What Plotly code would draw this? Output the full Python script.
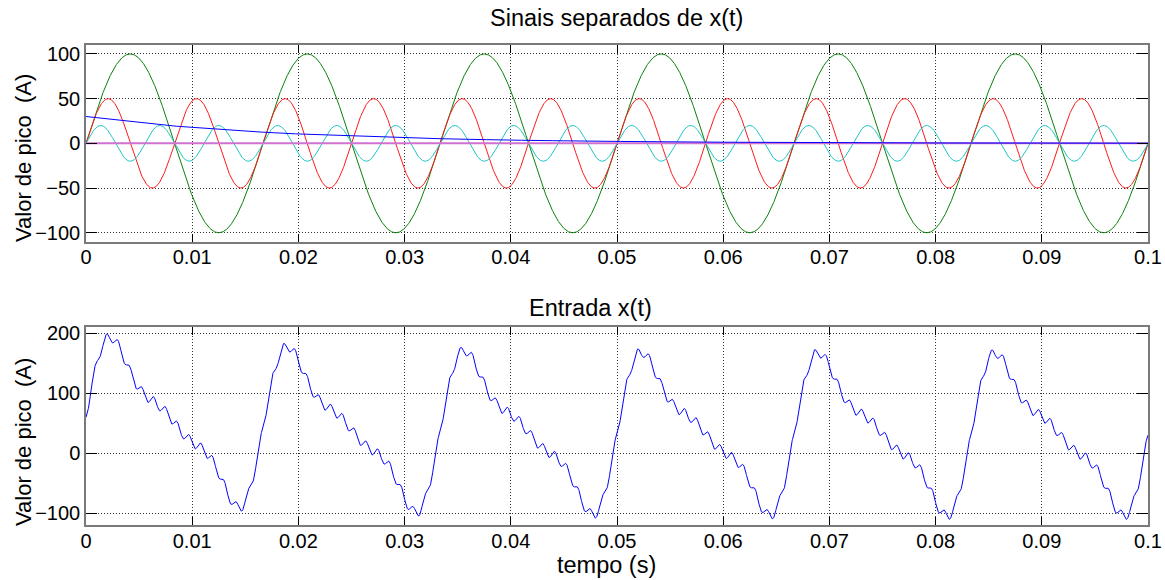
import numpy as np
import plotly.graph_objects as go

# ---------------- data ----------------
t_start, t_end, n_samples = 0.0, 0.1, 4001

# components shown in the top panel (amplitude in A, frequency in Hz)
comp_names = ["decaimento", "60 Hz", "120 Hz", "180 Hz", "nulo"]
comp_amplitudes = [30.0, 100.0, 50.0, 20.0, 0.0]
comp_frequencies = [0.0, 60.0, 120.0, 180.0, 0.0]
decay_tau = 0.019  # s, time constant of the decaying blue component
comp_colors = ["#0000FF", "#0A800A", "#FF1A1A", "#20C4C4", "#D070D0"]
comp_widths = [1, 1, 1, 1, 2]
draw_order = [1, 2, 3, 4, 0]

# extra content visible in the input signal (bottom panel)
input_offset = 31.0
ripple_amplitude = 8.0
ripple_frequency = 900.0
ripple_phase = 3.3

x_ticks = [0, 0.01, 0.02, 0.03, 0.04, 0.05, 0.06, 0.07, 0.08, 0.09, 0.1]
x_tick_labels = ["0", "0.01", "0.02", "0.03", "0.04", "0.05", "0.06", "0.07", "0.08", "0.09", "0.1"]
top_y_ticks = [-100, -50, 0, 50, 100]
bottom_y_ticks = [-100, 0, 100, 200]
top_y_range = [-110, 110]
bottom_y_range = [-120, 210]

# ---------------- build signals ----------------
t = np.linspace(t_start, t_end, n_samples)
components = []
for a, f in zip(comp_amplitudes, comp_frequencies):
    if f == 0.0 and a != 0.0:
        components.append(a * np.exp(-t / decay_tau))
    else:
        components.append(a * np.sin(2 * np.pi * f * t))
x_input = (sum(components) + input_offset
           + ripple_amplitude * np.sin(2 * np.pi * ripple_frequency * t + ripple_phase))

# ---------------- figure ----------------
FONT = "Liberation Sans, Arial, sans-serif"
fig = go.Figure()
for i in draw_order:
    fig.add_trace(go.Scatter(x=t, y=components[i], mode="lines",
                             line=dict(color=comp_colors[i], width=comp_widths[i]),
                             name=comp_names[i], xaxis="x", yaxis="y"))
fig.add_trace(go.Scatter(x=t, y=x_input, mode="lines",
                         line=dict(color="#0000FF", width=1),
                         name="x(t)", xaxis="x2", yaxis="y2"))

ax_common = dict(showline=True, linecolor="#7a7a7a", linewidth=1.5, mirror="ticks",
                 ticks="inside", tickcolor="#000000", tickwidth=1, automargin=False,
                 showgrid=True, gridcolor="#333333", gridwidth=1, griddash="1px,2px",
                 zeroline=False, tickfont=dict(family=FONT, size=20, color="#000000"))

H_TOP, H_BOT = 45, 525
ph = H_BOT - H_TOP
def py(p):
    return (H_BOT - p) / ph

fig.update_layout(
    template="none",
    width=1165, height=580,
    margin=dict(l=86, r=17, t=H_TOP, b=580 - H_BOT, autoexpand=False),
    paper_bgcolor="white", plot_bgcolor="white",
    showlegend=False,
    xaxis=dict(domain=[0, 1], anchor="y", range=[0, 0.1], tickvals=x_ticks,
               ticktext=x_tick_labels, ticklen=8, ticklabelstandoff=-3, **ax_common),
    yaxis=dict(domain=[py(241.7), 1], anchor="x", range=top_y_range,
               tickvals=top_y_ticks, ticklen=11, **ax_common),
    xaxis2=dict(domain=[0, 1], anchor="y2", range=[0, 0.1], tickvals=x_ticks,
                ticktext=x_tick_labels, ticklen=8, ticklabelstandoff=-3, **ax_common),
    yaxis2=dict(domain=[0, py(327.3)], anchor="x2", range=bottom_y_range,
                tickvals=bottom_y_ticks, ticklen=11, **ax_common),
)

def px(p):
    return (p - 86) / (1148.3 - 86)

ann = [
    dict(text="Sinais separados de x(t)", x=px(617), y=py(18), size=23.5, angle=0),
    dict(text="Entrada x(t)", x=px(591), y=py(308), size=23.5, angle=0),
    dict(text="tempo (s)", x=px(607), y=py(565), size=23.5, angle=0),
    dict(text="Valor de pico&nbsp;&nbsp;(A)", x=px(23), y=py(158), size=22, angle=-90),
    dict(text="Valor de pico&nbsp;&nbsp;(A)", x=px(23), y=py(442), size=22, angle=-90),
]
for a in ann:
    fig.add_annotation(text=a["text"], x=a["x"], y=a["y"], xref="paper", yref="paper",
                       showarrow=False, textangle=a["angle"],
                       xanchor="center", yanchor="middle",
                       font=dict(family=FONT, size=a["size"], color="#000000"))

fig.write_html("out.html")
